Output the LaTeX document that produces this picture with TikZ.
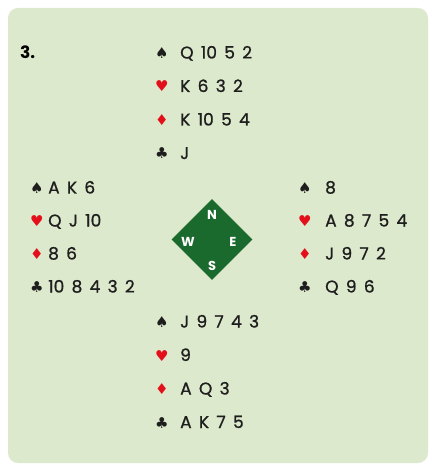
\documentclass[tikz,border=0pt]{standalone}
\usepackage{fontspec}
\usepackage{xcolor}
\usepackage{tikz}
\usetikzlibrary{positioning,shapes.geometric}
\setmainfont{Poppins}
\newfontfamily\handfamily[FakeBold=1]{Poppins}
\newfontfamily\suitfont{DejaVu Sans}
\definecolor{panelfill}{HTML}{DDE9CC}
\definecolor{compassfill}{HTML}{1B6A2D}
\definecolor{suitred}{HTML}{E3101C}
\definecolor{cardtext}{HTML}{1E1E1E}
\newcommand{\handfont}{\handfamily\fontsize{17bp}{17bp}\selectfont}
\newcommand{\wide}{\spaceskip=7.3bp\relax}
\newcommand{\spadesym}[1][25bp]{\makebox[#1][l]{\suitfont\fontsize{15bp}{15bp}\selectfont ♠}}
\newcommand{\heartsym}[1][25bp]{\makebox[#1][l]{\suitfont\fontsize{15bp}{15bp}\selectfont\textcolor{suitred}{♥}}}
\newcommand{\diamsym}[1][25bp]{\makebox[#1][l]{\suitfont\fontsize{15bp}{15bp}\selectfont\textcolor{suitred}{♦}}}
\newcommand{\clubsym}[1][25bp]{\makebox[#1][l]{\suitfont\fontsize{15bp}{15bp}\selectfont ♣}}

\begin{document}
\begin{tikzpicture}[x=1bp, y=-1bp,
  suitline/.style={anchor=base west, inner sep=0pt, text=cardtext, font=\handfont},
  compass/.style={diamond, fill=compassfill, minimum width=81bp, minimum height=81bp, inner sep=0pt},
  seat/.style={text=white, inner sep=0pt, font=\fontsize{13bp}{13bp}\selectfont\bfseries},
]
  \useasboundingbox (0,0) rectangle (432,465);
  \fill[panelfill, rounded corners=10bp] (8,8) rectangle (428,463);

  \node[anchor=base west, inner sep=0pt, font=\fontsize{17bp}{17bp}\selectfont\bfseries] (dealno) at (20,58.5) {3.};

  % North
  \node[suitline] (nspade) at (155,58.5) {\spadesym\wide Q 10 5 2};
  \node[suitline, below=33.5bp of nspade.base west, anchor=base west] (nheart) {\heartsym\wide K 6 3 2};
  \node[suitline, below=33.5bp of nheart.base west, anchor=base west] (ndiam) {\diamsym\wide K 10 5 4};
  \node[suitline, below=33.5bp of ndiam.base west, anchor=base west] (nclub) {\clubsym\wide J};

  % West
  \node[suitline] (wspade) at (30,193.5) {\spadesym[18bp]\wide A K 6};
  \node[suitline, below=33bp of wspade.base west, anchor=base west] (wheart) {\heartsym[18bp]\wide Q J 10};
  \node[suitline, below=33bp of wheart.base west, anchor=base west] (wdiam) {\diamsym[18bp]\wide 8 6};
  \node[suitline, below=33bp of wdiam.base west, anchor=base west] (wclub) {\clubsym[18bp]\wide 10 8 4 3 2};

  % East
  \node[suitline] (espade) at (298,193.5) {\spadesym[27bp]\wide 8};
  \node[suitline, below=33bp of espade.base west, anchor=base west] (eheart) {\heartsym[27bp]\wide A 8 7 5 4};
  \node[suitline, below=33bp of eheart.base west, anchor=base west] (ediam) {\diamsym[27bp]\wide J 9 7 2};
  \node[suitline, below=33bp of ediam.base west, anchor=base west] (eclub) {\clubsym[27bp]\wide Q 9 6};

  % South
  \node[suitline] (sspade) at (155,327.5) {\spadesym\wide J 9 7 4 3};
  \node[suitline, below=33.5bp of sspade.base west, anchor=base west] (sheart) {\heartsym\wide 9};
  \node[suitline, below=33.5bp of sheart.base west, anchor=base west] (sdiam) {\diamsym\wide A Q 3};
  \node[suitline, below=33.5bp of sdiam.base west, anchor=base west] (sclub) {\clubsym\wide A K 7 5};

  % compass
  \node[compass] (table) at (212,239.5) {};
  \node[seat, above=24.5bp of table.center, anchor=center] (north) {N};
  \node[seat, below left=2.5bp and 24bp of table.center, anchor=center] (west) {W};
  \node[seat, below right=2.5bp and 21bp of table.center, anchor=center] (east) {E};
  \node[seat, below=26.5bp of table.center, anchor=center] (south) {S};
\end{tikzpicture}
\end{document}
